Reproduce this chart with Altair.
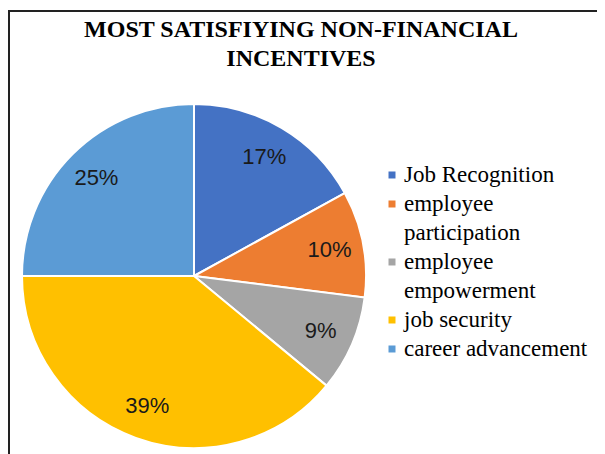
import altair as alt
import pandas as pd

categories = ["Job Recognition", "employee participation", "employee empowerment",
              "job security", "career advancement"]
legend_lines = [["Job Recognition"], ["employee", "participation"], ["employee", "empowerment"],
                ["job security"], ["career advancement"]]
values = [17, 10, 9, 39, 25]
colors = ["#4472C4", "#ED7D31", "#A5A5A5", "#FFC000", "#5B9BD5"]
title_lines = ["MOST SATISFIYING NON-FINANCIAL", "INCENTIVES"]

df = pd.DataFrame({
    "category": categories,
    "value": values,
    "order": list(range(len(categories))),
    "label": [f"{v}%" for v in values],
})

# legend rows: one row per text line, square on the first line of each entry
rows = []
r = 0
for cat, lines in zip(categories, legend_lines):
    for j, line in enumerate(lines):
        rows.append({"category": cat, "line": line, "row": r, "first": j == 0})
        r += 1
leg = pd.DataFrame(rows)

color_scale = alt.Scale(domain=categories, range=colors)
y_scale = alt.Scale(domain=[-2.448, 9.414], reverse=True, zero=False, nice=False)

base = alt.Chart(df).encode(
    theta=alt.Theta("value:Q", stack=True),
    order=alt.Order("order:Q"),
)

arcs = base.mark_arc(outerRadius=172, stroke="white", strokeWidth=2).encode(
    color=alt.Color("category:N", scale=color_scale, legend=None)
)

labels = base.mark_text(radius=138, font="Liberation Sans", fontSize=22, color="#1a1a1a").encode(
    text=alt.Text("label:N")
)

leg_squares = alt.Chart(leg).transform_filter("datum.first").mark_square(size=49, opacity=1).encode(
    x=alt.value(370),
    y=alt.Y("row:Q", scale=y_scale, axis=None),
    color=alt.Color("category:N", scale=color_scale, legend=None),
)

leg_text = alt.Chart(leg).mark_text(
    align="left", baseline="middle", font="Liberation Serif", fontSize=23, color="#000000"
).encode(
    x=alt.value(382),
    y=alt.Y("row:Q", scale=y_scale, axis=None),
    text=alt.Text("line:N"),
)

frame_df = pd.DataFrame({"k": [0]})
title_text = alt.Chart(frame_df).mark_text(
    align="center", baseline="alphabetic", font="Liberation Serif", fontSize=24,
    fontWeight="bold", color="#000000", lineHeight=29
).encode(
    x=alt.value(279), y=alt.value(-67), text=alt.value(title_lines)
)
frame_box = alt.Chart(frame_df).mark_rect(
    fill=None, fillOpacity=0, stroke="#222222", strokeWidth=2
).encode(
    x=alt.value(-13), x2=alt.value(640), y=alt.value(-93), y2=alt.value(420)
)

chart = alt.layer(frame_box, title_text, arcs, labels, leg_squares, leg_text).properties(
    width=344,
    height=344,
    autosize=alt.AutoSizeParams(type="none"),
    padding={"left": 14, "top": 96, "right": 231, "bottom": 6},
).configure_view(stroke=None)

chart.save("out.html", embed_options={"renderer": "svg", "actions": False})
